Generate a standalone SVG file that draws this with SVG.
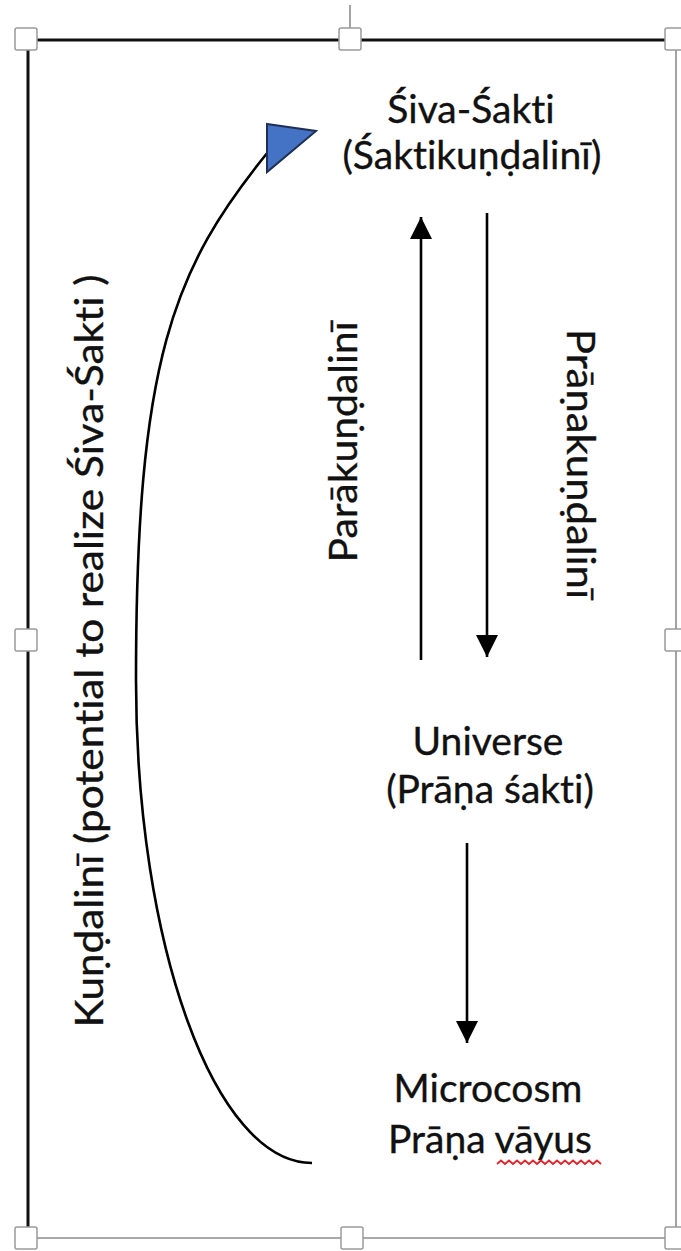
<svg xmlns="http://www.w3.org/2000/svg" width="681" height="1251" viewBox="0 0 681 1251">
  <style>
    .lbl, .side { font-family: Lato, "Noto Sans", "DejaVu Sans", sans-serif; font-size: 39px; fill: #111; stroke: #111; stroke-width: 0.35; text-anchor: middle; font-variant-ligatures: none; }
    .conn { stroke: #000; stroke-width: 2.6; fill: none; }
    .handle { fill: #fff; stroke: #9a9a9a; stroke-width: 1.5; }
    .frame-dark { stroke: #111; stroke-width: 3; fill: none; }
    .frame-light { stroke: #8c8c8c; stroke-width: 1.6; fill: none; }
  </style>
  <defs>
    <marker id="head" viewBox="0 0 10 10" refX="10" refY="5" markerWidth="22" markerHeight="22" markerUnits="userSpaceOnUse" orient="auto">
      <path d="M0,0 L10,5 L0,10 Z" fill="#000"/>
    </marker>
  </defs>

  <rect width="681" height="1251" fill="#fff"/>

  <!-- selection frame around the drawing -->
  <g id="frame">
    <line class="frame-light" x1="350" y1="5" x2="350" y2="30"/>
    <line class="frame-dark" x1="20" y1="40" x2="681" y2="40"/>
    <line class="frame-dark" x1="28" y1="40" x2="28" y2="1238"/>
    <line class="frame-light" x1="676" y1="40" x2="676" y2="1238"/>
    <line class="frame-light" x1="20" y1="1238" x2="681" y2="1238"/>
    <rect class="handle" x="15" y="28" width="22" height="22" rx="2"/>
    <rect class="handle" x="339" y="28" width="22" height="22" rx="2"/>
    <rect class="handle" x="665" y="28" width="22" height="22" rx="2"/>
    <rect class="handle" x="15" y="629" width="22" height="22" rx="2"/>
    <rect class="handle" x="665" y="629" width="22" height="22" rx="2"/>
    <rect class="handle" x="15" y="1227" width="22" height="22" rx="2"/>
    <rect class="handle" x="341" y="1227" width="22" height="22" rx="2"/>
    <rect class="handle" x="665" y="1227" width="22" height="22" rx="2"/>
  </g>

  <g id="connectors">
    <!-- Parākuṇḍalinī: up -->
    <line class="conn" x1="421" y1="660" x2="421" y2="217" marker-end="url(#head)"/>
    <!-- Prāṇakuṇḍalinī: down -->
    <line class="conn" x1="487" y1="213" x2="487" y2="657" marker-end="url(#head)"/>
    <!-- Universe to microcosm -->
    <line class="conn" x1="467" y1="843" x2="467" y2="1043" marker-end="url(#head)"/>
    <!-- Kuṇḍalinī return curve -->
    <path class="conn" d="M312,1163 C215,1163 136,946 136,680 C136,360 173,269 268,152"/>
    <polygon points="267,124 316,131 267,172" fill="#4472C4" stroke="#1f2f55" stroke-width="2" stroke-linejoin="miter"/>
  </g>

  <g id="node-siva-sakti">
    <text class="lbl" x="471" y="123">Śiva-Śakti</text>
    <text class="lbl" x="472" y="169">(Śaktikuṇḍalinī)</text>
  </g>

  <g id="node-universe">
    <text class="lbl" x="488" y="755">Universe</text>
    <text class="lbl" x="490" y="803">(Prāṇa śakti)</text>
  </g>

  <g id="node-microcosm">
    <text class="lbl" x="488" y="1102">Microcosm</text>
    <text class="lbl" x="490" y="1153">Prāṇa vāyus</text>
    <!-- spell-check underline -->
    <path d="M497,1164 l4,-3.5 l4,3.5 l4,-3.5 l4,3.5 l4,-3.5 l4,3.5 l4,-3.5 l4,3.5 l4,-3.5 l4,3.5 l4,-3.5 l4,3.5 l4,-3.5 l4,3.5 l4,-3.5 l4,3.5 l4,-3.5 l4,3.5 l4,-3.5 l4,3.5 l4,-3.5 l4,3.5 l4,-3.5 l4,3.5 l4,-3.5 l4,3.5" fill="none" stroke="#e0242c" stroke-width="1.8"/>
  </g>

  <g id="label-parakundalini">
    <text class="side" transform="translate(357,442) rotate(-90)" textLength="241" lengthAdjust="spacingAndGlyphs">Parākuṇḍalinī</text>
  </g>

  <g id="label-pranakundalini">
    <text class="side" transform="translate(567,464) rotate(90)" textLength="270" lengthAdjust="spacingAndGlyphs">Prāṇakuṇḍalinī</text>
  </g>

  <g id="label-kundalini">
    <text class="side" transform="translate(103,651) rotate(-90)" textLength="753" lengthAdjust="spacingAndGlyphs">Kuṇḍalinī (potential to realize Śiva-Śakti )</text>
  </g>
</svg>
